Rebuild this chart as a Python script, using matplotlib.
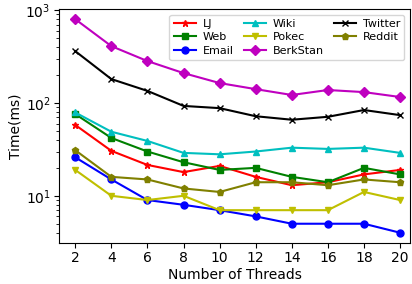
import matplotlib
matplotlib.use("Agg")
import matplotlib.pyplot as plt

threads = [2, 4, 6, 8, 10, 12, 14, 16, 18, 20]

lj = [58, 30.5, 21.5, 18, 21, 16, 13, 14, 17, 19]
web = [76, 42, 30, 23, 19, 20, 16, 14, 20, 17]
email = [26, 15, 9, 8, 7, 6, 5, 5, 5, 4]
wiki = [79, 49, 39, 29, 28, 30, 33, 32, 33, 29]
pokec = [19, 10, 9, 10, 7, 7, 7, 7, 11, 9]
berkstan = [800, 410, 283, 210, 164, 141, 122, 138, 131, 116]
twitter = [362, 181, 135, 93, 88, 72, 66, 71, 84, 74]
reddit = [31, 16, 15, 12, 11, 14, 14, 13, 15, 14]

series = [
    ("LJ", lj, "r", "*"),
    ("Web", web, "g", "s"),
    ("Email", email, "b", "o"),
    ("Wiki", wiki, "c", "^"),
    ("Pokec", pokec, "y", "v"),
    ("BerkStan", berkstan, "m", "D"),
    ("Twitter", twitter, "k", "x"),
    ("Reddit", reddit, "olive", "p"),
]

fig = plt.figure(figsize=(4.12, 2.84), dpi=100)
ax = fig.add_axes([59 / 412, 1 - 243 / 284, (410 - 59) / 412, (243 - 9) / 284])

for name, vals, c, m in series:
    ax.plot(threads, vals, color=c, marker=m, markersize=5, linewidth=1.5, label=name)

ax.set_yscale("log")
ax.set_ylim(3.1, 1030)
ax.set_xlim(1.1, 20.55)
ax.set_xticks(threads)
ax.tick_params(labelsize=10, pad=2.5)
ax.set_xlabel("Number of Threads", fontsize=10, labelpad=2)
ax.set_ylabel("Time(ms)", fontsize=10, labelpad=2)
ax.legend(ncol=3, loc="upper right", fontsize=8, handlelength=2.0,
          handletextpad=0.6, columnspacing=0.9, labelspacing=0.3,
          borderpad=0.4)

fig.savefig("out.png", dpi=100)
